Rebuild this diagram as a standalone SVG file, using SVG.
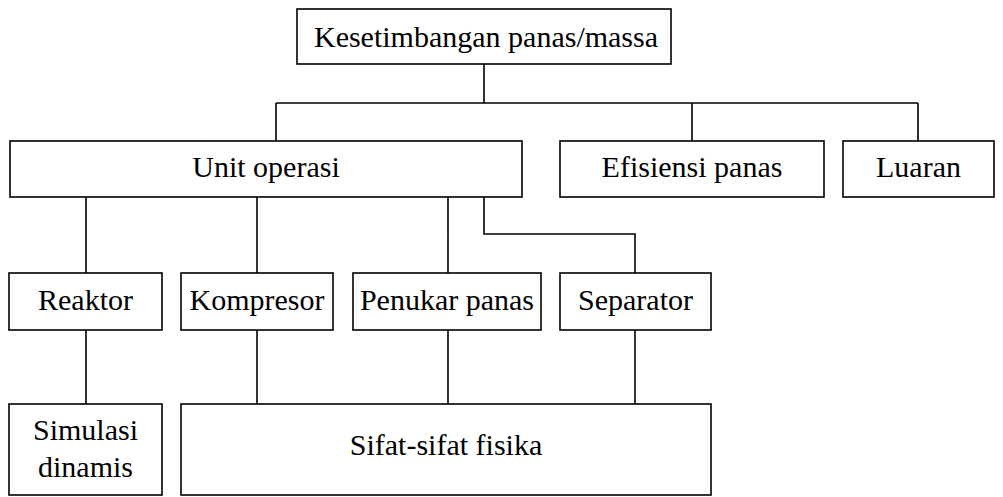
<svg xmlns="http://www.w3.org/2000/svg" width="1003" height="497" viewBox="0 0 1003 497">
<style>
.box{fill:#fff;stroke:#000;stroke-width:1.6}
.ln{fill:none;stroke:#000;stroke-width:1.6}
.t{font-family:"Liberation Serif","Times New Roman","DejaVu Serif",serif;font-size:30px;fill:#000;text-anchor:middle}
</style>
<rect width="1003" height="497" fill="#fff"/>
<g id="connectors">
<path class="ln" d="M484 64V103M276 103H918M276 103V141M692 103V141M918 103V141"/>
<path class="ln" d="M86 197V273M257 197V273M448 197V273M484 197V234H635V273"/>
<path class="ln" d="M86 330V404M257 330V404M448 330V404M635 330V404"/>
</g>
<g id="n-kesetimbangan"><rect class="box" x="297" y="9" width="374" height="55"/><text class="t" font-family="Liberation Serif, serif" x="486" y="47">Kesetimbangan panas/massa</text></g>
<g id="n-unit"><rect class="box" x="10" y="141" width="512" height="56"/><text class="t" font-family="Liberation Serif, serif" x="266" y="177">Unit operasi</text></g>
<g id="n-efisiensi"><rect class="box" x="560" y="141" width="264" height="56"/><text class="t" font-family="Liberation Serif, serif" x="692" y="177">Efisiensi panas</text></g>
<g id="n-luaran"><rect class="box" x="843" y="141" width="151" height="56"/><text class="t" font-family="Liberation Serif, serif" x="918.5" y="177">Luaran</text></g>
<g id="n-reaktor"><rect class="box" x="9" y="273" width="153" height="57"/><text class="t" font-family="Liberation Serif, serif" x="85.5" y="310">Reaktor</text></g>
<g id="n-kompresor"><rect class="box" x="181" y="273" width="152" height="57"/><text class="t" font-family="Liberation Serif, serif" x="257" y="310">Kompresor</text></g>
<g id="n-penukar"><rect class="box" x="353" y="273" width="188" height="57"/><text class="t" font-family="Liberation Serif, serif" x="447" y="310">Penukar panas</text></g>
<g id="n-separator"><rect class="box" x="560" y="273" width="151" height="57"/><text class="t" font-family="Liberation Serif, serif" x="635.5" y="310">Separator</text></g>
<g id="n-simulasi"><rect class="box" x="9" y="404" width="153" height="91"/><text class="t" font-family="Liberation Serif, serif" x="85.5" y="440">Simulasi</text><text class="t" font-family="Liberation Serif, serif" x="85.5" y="477">dinamis</text></g>
<g id="n-sifat"><rect class="box" x="181" y="404" width="530" height="91"/><text class="t" font-family="Liberation Serif, serif" x="446" y="455">Sifat-sifat fisika</text></g>
</svg>
